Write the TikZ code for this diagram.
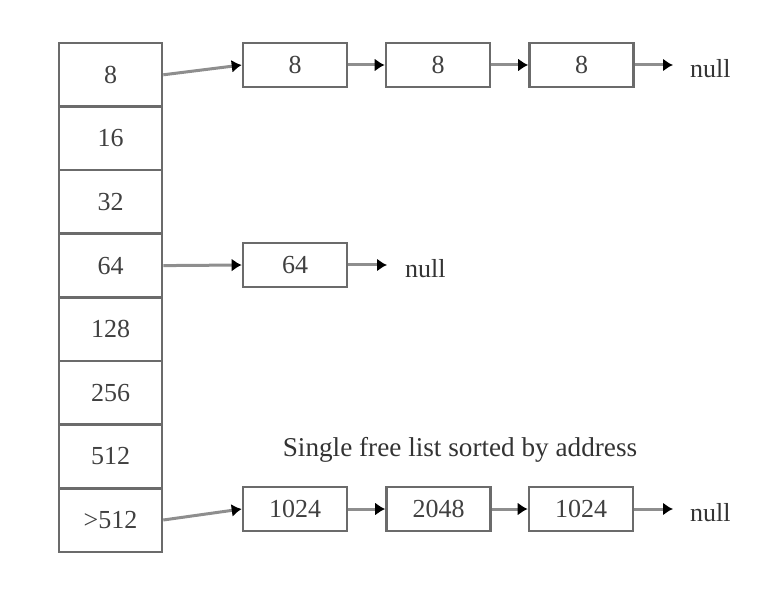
\documentclass[tikz,border=0pt]{standalone}
\usepackage{fontspec}
\setmainfont{Liberation Serif}
\usetikzlibrary{arrows.meta}
\definecolor{boxgray}{HTML}{6B6B6B}
\definecolor{linegray}{HTML}{8E8E8E}
\begin{document}
\begin{tikzpicture}[x=1pt, y=-1pt, font=\fontsize{26}{30}\selectfont]
\tikzstyle{cell}=[draw=boxgray, line width=2.6pt, minimum width=103pt, minimum height=63.6pt, inner sep=0pt, text=black!75]
\tikzstyle{block}=[draw=boxgray, line width=2.6pt, minimum width=104pt, minimum height=44pt, inner sep=0pt, text=black!75]
\tikzstyle{link}=[draw=linegray, line width=3pt, -{Latex[length=10pt, width=13pt, color=black]}]
\useasboundingbox (0,0) rectangle (782,596);

% size classes
\foreach \s [count=\i] in {8,16,32,64,128,256,512,>512}
  \node[cell] (c\i) at (110.5,{74.8+63.6*(\i-1)}) {\s};

% lists
\node[block] (a1) at (295,65) {8};
\node[block] (a2) at (438,65) {8};
\node[block] (a3) at (581.5,65) {8};
\node[anchor=west, inner sep=0pt, text=black!80] (anull) at (690,69) {null};

\node[block] (b1) at (295,265) {64};
\node[anchor=west, inner sep=0pt, text=black!80] (bnull) at (405,269) {null};

\node[text=black!80, font=\fontsize{27.2}{30}\selectfont] (title) at (460,450) {Single free list sorted by address};
\node[block] (d1) at (295,509) {1024};
\node[block] (d2) at (438.5,509) {2048};
\node[block] (d3) at (581,509) {1024};
\node[anchor=west, inner sep=0pt, text=black!80] (dnull) at (690,513) {null};

\draw[link] (c1.east) -- (a1.west);
\draw[link] (a1) -- (a2);
\draw[link] (a2) -- (a3);
\draw[link, shorten >=17pt] (a3.east) -- (a3.east -| anull.west);

\draw[link] (c4.east) -- (b1.west);
\draw[link, shorten >=18pt] (b1.east) -- (b1.east -| bnull.west);

\draw[link] (c8.east) -- (d1.west);
\draw[link] (d1) -- (d2);
\draw[link] (d2) -- (d3);
\draw[link, shorten >=17pt] (d3.east) -- (d3.east -| dnull.west);

\end{tikzpicture}
\end{document}
